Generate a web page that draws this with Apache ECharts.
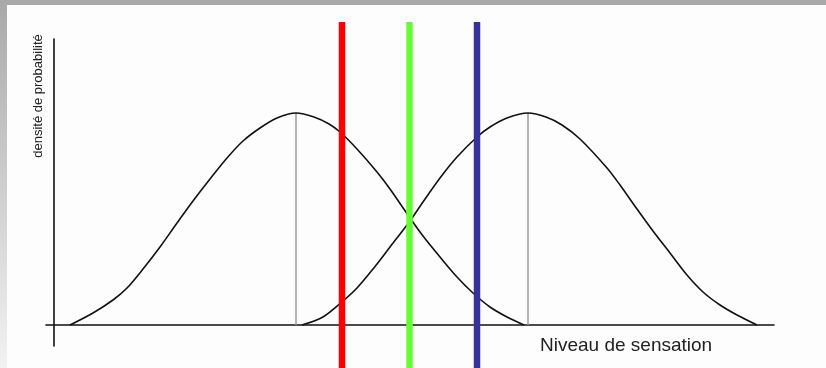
<!DOCTYPE html>
<html>
<head>
<meta charset="utf-8">
<script src="https://cdn.jsdelivr.net/npm/echarts@6/dist/echarts.min.js"></script>
<style>
html,body{margin:0;padding:0;background:#fdfdfd}
#chart{width:826px;height:368px}
</style>
</head>
<body>
<div id="chart"></div>
<script>

// curves: [position, density]
const leftCurve = [[16,0],[39,12],[59,25],[73,37],[89,56],[106,78],[123,102],[139,124],[156,146],[173,167],[189,184],[206,197],[223,207],[242,212],[260,208],[275,201],[286,193],[303,176],[323,153],[336,136],[356,107],[369,89],[386,68],[403,48],[419,32],[436,18],[453,8],[470,0]]
const rightCurve = [[248,0],[269,8],[289,24],[303,37],[319,56],[336,78],[356,104],[369,123],[386,147],[403,168],[423,188],[436,198],[453,207],[474,212],[492,208],[508,200],[526,186],[553,157],[566,140],[583,116],[599,94],[616,72],[633,50],[649,33],[666,20],[683,10],[703,0]]

// peaks (mean of each curve)
const peakX = [242, 474]
const peakY = [212, 212]

// decision criteria
const criteria = [288, 355.5, 423]
const criteriaColors = ["#ff0000", "#66ff33", "#333399"]

const el = document.getElementById("chart")
const chart = echarts.init(el)

const series = []

peakX.forEach((x,i) => {
series.push({
type:"line",
xAxisIndex:0, yAxisIndex:0,
data:[[x,0],[x,peakY[i]]],
symbol:"none",
silent:true,
lineStyle:{color:"#9a9a9a",width:1.5},
z:1
})
})

;[leftCurve, rightCurve].forEach(c => {
series.push({
type:"line",
xAxisIndex:0, yAxisIndex:0,
data:c,
smooth:0.3,
symbol:"none",
lineStyle:{color:"#111",width:1.6},
z:2
})
})

criteria.forEach((x,i) => {
series.push({
type:"line",
xAxisIndex:1, yAxisIndex:1,
data:[[x,0],[x,1]],
symbol:"none",
lineStyle:{color:criteriaColors[i],width:6.5,cap:"butt"},
z:5
})
})

chart.setOption({

animation:false,

grid:[
{left:46,right:52,top:39,bottom:22},
{left:46,right:52,top:22,bottom:0}
],

xAxis:[
{
type:"value",gridIndex:0,min:-8,max:720,
axisLine:{onZero:true,lineStyle:{color:"#111",width:1.6}},
axisTick:{show:false},axisLabel:{show:false},splitLine:{show:false}
},
{
type:"value",gridIndex:1,min:-8,max:720,show:false
}
],

yAxis:[
{
type:"value",gridIndex:0,min:-21,max:286,
axisLine:{show:true,onZero:true,lineStyle:{color:"#111",width:1.6}},
axisTick:{show:false},axisLabel:{show:false},splitLine:{show:false}
},
{
type:"value",gridIndex:1,min:0,max:1,show:false
}
],

graphic:[
{
type:"rect",left:0,top:0,z:-10,
shape:{width:826,height:5},
style:{fill:"#a9a9a9"}
},
{
type:"rect",left:0,top:5,z:-10,
shape:{width:7,height:363},
style:{fill:new echarts.graphic.LinearGradient(0,0,0,1,[
{offset:0,color:"#aaaaaa"},
{offset:1,color:"#f2f2f2"}
])}
},
{
type:"text",
x:38,y:96,
rotation:Math.PI/2,
style:{
text:"densité de probabilité",
font:"13px 'Liberation Sans', Arial, sans-serif",
fill:"#222",
textAlign:"center",
textVerticalAlign:"middle"
}
},
{
type:"text",
x:540,y:346,
style:{
text:"Niveau de sensation",
font:"19px 'Liberation Sans', Arial, sans-serif",
fill:"#222",
textAlign:"left",
textVerticalAlign:"middle"
}
}
],

series:series

})

</script>
</body>
</html>
